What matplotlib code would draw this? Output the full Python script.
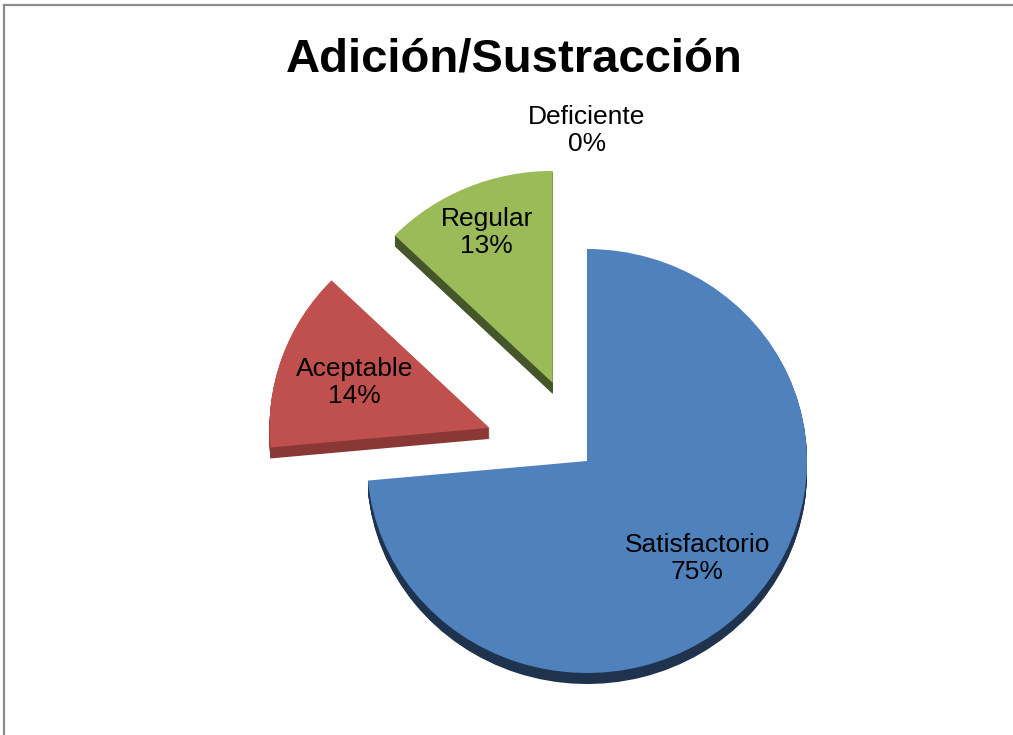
import numpy as np
import matplotlib
matplotlib.use("Agg")
import matplotlib.pyplot as plt
from matplotlib.lines import Line2D

plt.rcParams['font.family'] = ['Liberation Sans', 'DejaVu Sans']

# Datos del gráfico
categorias = ['Satisfactorio', 'Aceptable', 'Regular', 'Deficiente']
porcentajes = [75, 14, 13, 0]

colores = ['#4F81BD', '#C0504D', '#9BBB59', '#8064A2']
colores_lado = ['#1F324E', '#8A3836', '#45562A', '#4B3A63']
separacion = [0.0, 0.47, 0.40, 0.0]
dist_etiqueta = [0.68, 0.65, 0.77, 1.56]

fig = plt.figure(figsize=(10.13, 7.35), dpi=100)
ax = fig.add_axes([0, 0, 1, 1])

# grosor del pastel: copias más oscuras desplazadas hacia abajo
grosor = 0.052
for dy in np.linspace(-grosor, -0.004, 14):
    ax.pie(porcentajes, colors=colores_lado, startangle=90, counterclock=False,
           explode=separacion, center=(0, dy),
           wedgeprops=dict(linewidth=0))

wedges, _ = ax.pie(porcentajes, colors=colores, startangle=90, counterclock=False,
                   explode=separacion, wedgeprops=dict(linewidth=0))

# etiquetas de categoría y porcentaje
for w, cat, val, d in zip(wedges, categorias, porcentajes, dist_etiqueta):
    ang = np.deg2rad((w.theta1 + w.theta2) / 2)
    cx, cy = w.center
    ax.text(cx + d * np.cos(ang), cy + d * np.sin(ang), f"{cat}\n{val}%",
            ha='center', va='center', multialignment='center',
            fontsize=19, color='black', linespacing=1.15)

# escala: 1 unidad = 220 px en x, 212 px en y, centro en (587, 461)
ax.set_aspect('auto')
ax.set_xlim(-587 / 220, (1013 - 587) / 220)
ax.set_ylim(-(735 - 461) / 212, 461 / 212)
ax.axis('off')

fig.text(514 / 1013, 1 - 72 / 735, 'Adición/Sustracción', ha='center',
         va='baseline', fontsize=34, fontweight='bold')

# borde del área del gráfico
fig.add_artist(Line2D([4 / 1013, 4 / 1013], [0, 1 - 4.5 / 735],
                      transform=fig.transFigure, color='#8C8C8C', lw=1.6))
fig.add_artist(Line2D([4 / 1013, 1], [1 - 4.5 / 735, 1 - 4.5 / 735],
                      transform=fig.transFigure, color='#8C8C8C', lw=1.6))

fig.savefig('out.png', dpi=100, facecolor='white')
